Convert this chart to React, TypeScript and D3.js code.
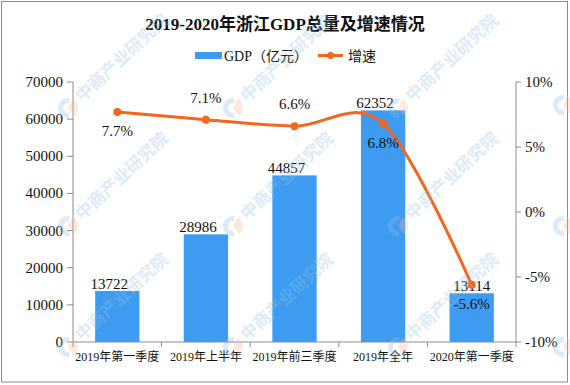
import * as d3 from 'd3';

const categories = ['2019年第一季度', '2019年上半年', '2019年前三季度', '2019年全年', '2020年第一季度'];
const gdpValues = [13722, 28986, 44857, 62352, 13114];
const growthValues = [7.7, 7.1, 6.6, 6.8, -5.6];
const growthLabelSide = ['below', 'above', 'above', 'below', 'below'];
const leftTicks = [0, 10000, 20000, 30000, 40000, 50000, 60000, 70000];
const rightTicks = [-10, -5, 0, 5, 10];

const W = 570;
const H = 385;
const FONT = '"Liberation Serif", "Noto Sans CJK SC", serif';
const BLUE = '#3e9cf0';
const ORANGE = '#f4661d';
const AXIS = '#8c8c8c';

// 水印位置
const wmCols = [68, 233, 398];
const wmRows = [108, 226, 347];
const wmLogoOnly = [[563, 105], [563, 226], [563, 347]];

function Logo() {
    const arc = d3.arc<any>();
    const blue = arc({ innerRadius: 5, outerRadius: 10, startAngle: Math.PI * 0.95, endAngle: Math.PI * 2.05 });
    const orange = arc({ innerRadius: 0, outerRadius: 10, startAngle: Math.PI * 0.15, endAngle: Math.PI * 0.8 });
    return (
        <g>
            <path d={blue || ''} fill="#8fbfe8" />
            <path d={orange || ''} fill="#f3b89a" />
        </g>
    );
}

function Watermark({ x, y, text = true }: { x: number; y: number; text?: boolean }) {
    return (
        <g transform={`translate(${x},${y})`} opacity={0.3} pointerEvents="none">
            <Logo />
            {text && (
                <text
                    transform="rotate(-43)"
                    x={14}
                    y={6}
                    fontSize={17}
                    fontWeight="bold"
                    fill="#8fbfe8"
                    fontFamily='"Noto Sans CJK SC", sans-serif'
                >
                    中商产业研究院
                </text>
            )}
        </g>
    );
}

export default function App() {
    const x = d3.scaleBand<string>().domain(categories).range([73, 516]).paddingInner(0.5).paddingOuter(0.25);
    const yLeft = d3.scaleLinear().domain([0, 70000]).range([342, 82]);
    const yRight = d3.scaleLinear().domain([-10, 10]).range([342, 82]);
    const step = x.step();
    const cx = (c: string) => (x(c) as number) + x.bandwidth() / 2;

    const pts: [number, number][] = categories.map((c, i) => [cx(c), yRight(growthValues[i])]);
    const linePath = d3.line().curve(d3.curveCardinal.tension(0))(pts) || '';

    const boundaries = d3.range(categories.length + 1).map(i => 73 + i * step);

    return (
        <svg width={W} height={H} style={{ position: 'absolute', left: 0, top: 0 }} fontFamily={FONT}>
            <rect x={0} y={0} width={W} height={H} fill="#fff" />
            <rect x={1.5} y={1.5} width={566} height={380.5} fill="none" stroke={AXIS} strokeWidth={1} />

            {/* 标题 */}
            <text x={285} y={30} textAnchor="middle" fontSize={17} fontWeight="bold" fill="#111">
                2019-2020年浙江GDP总量及增速情况
            </text>

            {/* 图例 */}
            <rect x={195} y={52} width={27} height={7} fill={BLUE} />
            <text x={224} y={61} fontSize={14} fill="#111">GDP（亿元）</text>
            <line x1={318} x2={343} y1={55.5} y2={55.5} stroke={ORANGE} strokeWidth={3} />
            <circle cx={330.5} cy={55.5} r={3.5} fill={ORANGE} />
            <text x={348} y={61} fontSize={14} fill="#111">增速</text>

            {/* 柱子 */}
            {categories.map((c, i) => (
                <rect
                    key={c}
                    x={x(c)}
                    y={yLeft(gdpValues[i])}
                    width={x.bandwidth()}
                    height={yLeft(0) - yLeft(gdpValues[i])}
                    fill={BLUE}
                />
            ))}

            {/* 左轴 */}
            <line x1={73} x2={73} y1={82} y2={342} stroke={AXIS} />
            {leftTicks.map(t => (
                <g key={t}>
                    <line x1={67} x2={73} y1={yLeft(t)} y2={yLeft(t)} stroke={AXIS} />
                    <text x={63} y={yLeft(t) + 5} textAnchor="end" fontSize={15} fill="#111">{t}</text>
                </g>
            ))}

            {/* 右轴 */}
            <line x1={516} x2={516} y1={82} y2={342} stroke={AXIS} />
            {rightTicks.map(t => (
                <g key={t}>
                    <line x1={516} x2={521} y1={yRight(t)} y2={yRight(t)} stroke={AXIS} />
                    <text x={525} y={yRight(t) + 5} fontSize={15} fill="#111">{t}%</text>
                </g>
            ))}

            {/* X轴 */}
            <line x1={73} x2={516} y1={342} y2={342} stroke={AXIS} />
            {boundaries.map(b => (
                <line key={b} x1={b} x2={b} y1={342} y2={347} stroke={AXIS} />
            ))}
            {categories.map(c => (
                <text key={c} x={cx(c)} y={361} textAnchor="middle" fontSize={12} fill="#111">{c}</text>
            ))}

            {/* 柱子数值 */}
            {categories.map((c, i) => (
                <text
                    key={c}
                    x={cx(c) + (i === categories.length - 1 ? 0 : -8)}
                    y={yLeft(gdpValues[i]) - 2}
                    textAnchor="middle"
                    fontSize={15}
                    fill="#111"
                >
                    {gdpValues[i]}
                </text>
            ))}

            {/* 增速折线 */}
            <path d={linePath} fill="none" stroke={ORANGE} strokeWidth={3} />
            {pts.map((p, i) => (
                <circle key={i} cx={p[0]} cy={p[1]} r={4} fill={ORANGE} />
            ))}
            {pts.map((p, i) => (
                <text
                    key={'l' + i}
                    x={p[0]}
                    y={growthLabelSide[i] === 'above' ? p[1] - 17 : p[1] + 24}
                    textAnchor="middle"
                    fontSize={15}
                    fill="#111"
                >
                    {growthValues[i].toFixed(1)}%
                </text>
            ))}

            {/* 水印 */}
            {wmCols.map(cx0 => wmRows.map(cy0 => <Watermark key={cx0 + '-' + cy0} x={cx0} y={cy0} />))}
            {wmLogoOnly.map(([lx, ly]) => <Watermark key={'lo' + lx + ly} x={lx} y={ly} text={false} />)}
        </svg>
    );
}
